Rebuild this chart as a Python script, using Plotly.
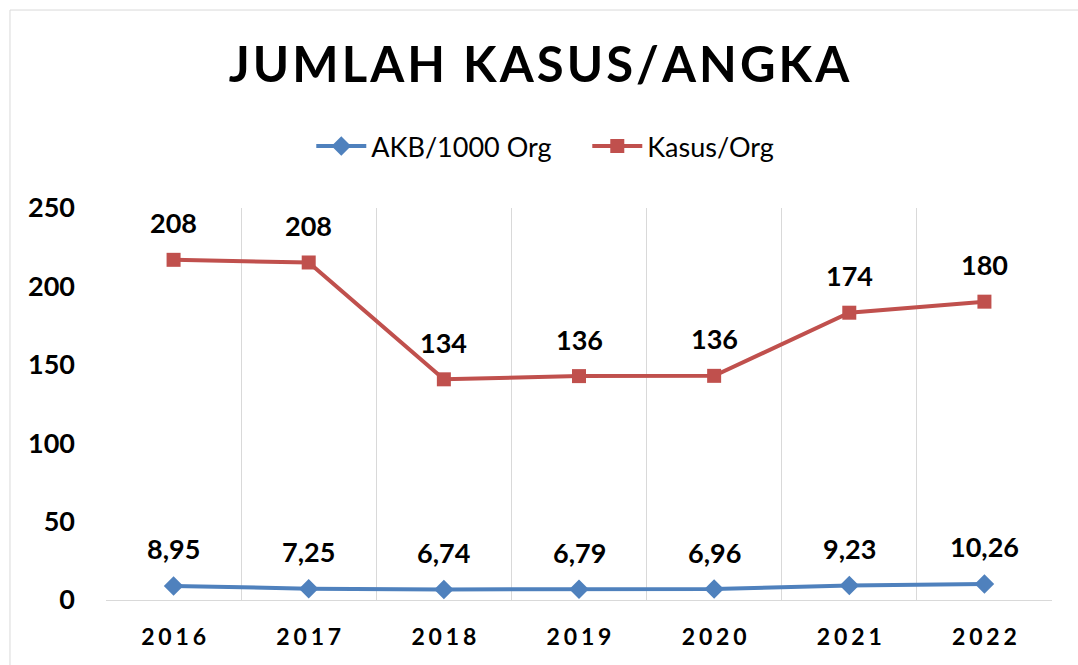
import plotly.graph_objects as go

years = ["2016", "2017", "2018", "2019", "2020", "2021", "2022"]
akb = [8.95, 7.25, 6.74, 6.79, 6.96, 9.23, 10.26]
kasus = [208, 208, 134, 136, 136, 174, 180]
series_names = ["AKB/1000 Org", "Kasus/Org"]
title_text = "JUMLAH KASUS/ANGKA"
y_ticks = [0, 50, 100, 150, 200, 250]

FONT = "Lato"
BLUE = "#4F81BD"
RED = "#C0504D"

def fmt(v):
    s = ("%g" % v)
    return s.replace(".", ",")

def spaced(s, sp):
    return sp.join(list(s))

fig = go.Figure()
fig.add_trace(go.Scatter(
    x=years, y=akb, name=series_names[0], mode="lines+markers",
    stackgroup="one", fill="none",
    line=dict(color=BLUE, width=4),
    marker=dict(symbol="diamond", size=15, color=BLUE),
))
fig.add_trace(go.Scatter(
    x=years, y=kasus, name=series_names[1], mode="lines+markers",
    stackgroup="one", fill="none",
    line=dict(color=RED, width=4),
    marker=dict(symbol="square", size=14, color=RED),
))

annotations = []
lab_font = dict(family=FONT, size=27, color="black", weight="bold")
for i, yr in enumerate(years):
    annotations.append(dict(x=i, y=akb[i], text=fmt(akb[i]), showarrow=False,
                            yshift=37, font=lab_font))
    annotations.append(dict(x=i, y=akb[i] + kasus[i], text=fmt(kasus[i]), showarrow=False,
                            yshift=37, font=lab_font))

fig.update_layout(
    width=1078, height=665,
    margin=dict(l=106, r=26, t=208, b=65),
    paper_bgcolor="white", plot_bgcolor="white",
    title=dict(text=spaced(title_text, "\u200a"), x=0.5, xanchor="center", y=0.902, yanchor="middle",
               font=dict(family=FONT, size=49, color="black", weight="bold")),
    legend=dict(orientation="h", x=0.217, xanchor="left", y=1.157, yanchor="middle",
                font=dict(family=FONT, size=27, color="black"), itemwidth=50,
                entrywidth=211, entrywidthmode="pixels"),
    showlegend=True,
    annotations=annotations,
    shapes=[dict(type="rect", xref="paper", yref="paper", x0=-0.1015, x1=1.3,
                 y0=-0.5, y1=1.505, line=dict(color="#d9d9d9", width=1), layer="below")],
)
fig.update_xaxes(
    type="category", tickvals=years, ticktext=[spaced(y, "\u2006") for y in years],
    tickson="boundaries", ticks="", showgrid=True, gridcolor="#d9d9d9", gridwidth=1,
    showline=True, linecolor="#d9d9d9", linewidth=1,
    tickfont=dict(family=FONT, size=23, color="black", weight="bold"),
    range=[-0.5, 6.5], ticklabelstandoff=16,
)
fig.update_yaxes(
    range=[0, 250], tickvals=y_ticks, showgrid=False, zeroline=False, showline=False,
    tickfont=dict(family=FONT, size=27, color="black", weight="bold"),
    ticklabelstandoff=30,
)

fig.write_html("out.html")
